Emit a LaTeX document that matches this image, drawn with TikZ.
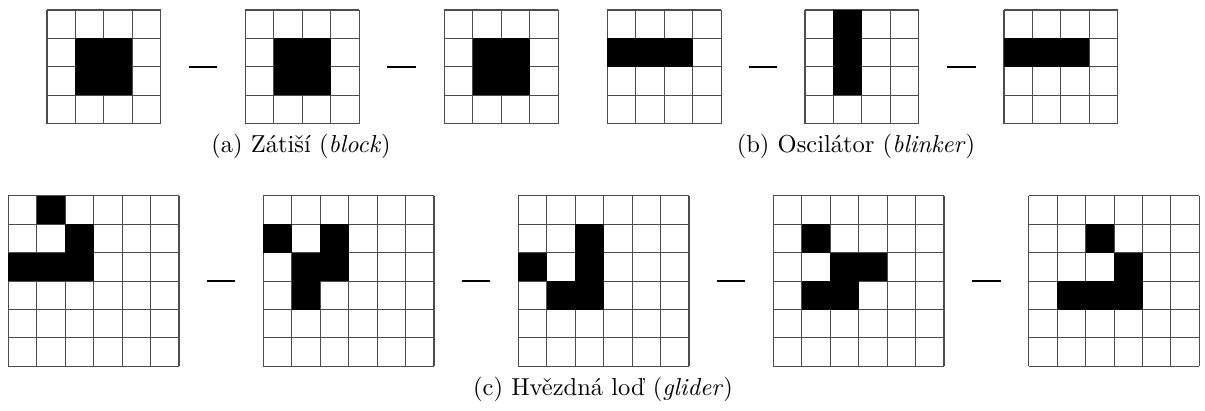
\documentclass[tikz,border=0pt]{standalone}
\begin{document}
\begin{tikzpicture}[x=0.408pt,y=-0.408pt]
\def\cellsz{28.45}
\tikzset{
  gridline/.style={draw=black!70, line width=0.42pt},
  lifecell/.style={fill=black},
  gridframe/.style={inner sep=0pt, outer sep=0pt, anchor=north west},
  sepdash/.style={line width=1.1pt, shorten <=11.45pt, shorten >=11.45pt},
  captext/.style={anchor=base, inner sep=0pt, font=\fontsize{10}{12}\selectfont}
}
\newcommand\lifegrid[5]{%
  \node[gridframe, minimum width={#3*\cellsz*0.408pt}, minimum height={#3*\cellsz*0.408pt}] (#5) at (#1,#2) {};
  \foreach \i in {0,...,#3} {
    \draw[gridline] (#1+\i*\cellsz, #2) -- (#1+\i*\cellsz, #2+#3*\cellsz);
    \draw[gridline] (#1, #2+\i*\cellsz) -- (#1+#3*\cellsz, #2+\i*\cellsz);
  }
  \foreach \c/\r in {#4} {\fill[lifecell] (#1+\c*\cellsz, #2+\r*\cellsz) rectangle ++(\cellsz,\cellsz);}
}
\useasboundingbox (0,0) rectangle (1205,410);
% top row: block
\lifegrid{47}{10}{4}{1/1,2/1,1/2,2/2}{b1}
\lifegrid{245.3}{10}{4}{1/1,2/1,1/2,2/2}{b2}
\lifegrid{444.3}{10}{4}{1/1,2/1,1/2,2/2}{b3}
% blinker
\lifegrid{607.3}{10}{4}{0/1,1/1,2/1}{o1}
\lifegrid{805}{10}{4}{1/0,1/1,1/2}{o2}
\lifegrid{1004}{10}{4}{0/1,1/1,2/1}{o3}
% gliders
\lifegrid{8.3}{195.7}{6}{1/0,2/1,0/2,1/2,2/2}{g1}
\lifegrid{263.3}{195.7}{6}{0/1,2/1,1/2,2/2,1/3}{g2}
\lifegrid{518.3}{195.7}{6}{2/1,0/2,2/2,1/3,2/3}{g3}
\lifegrid{773.3}{195.7}{6}{1/1,2/2,3/2,1/3,2/3}{g4}
\lifegrid{1028.7}{195.7}{6}{2/1,3/2,1/3,2/3,3/3}{g5}
% separators
\draw[sepdash] (b1.east) -- (b2.west);
\draw[sepdash] (b2.east) -- (b3.west);
\draw[sepdash] (o1.east) -- (o2.west);
\draw[sepdash] (o2.east) -- (o3.west);
\draw[sepdash] (g1.east) -- (g2.west);
\draw[sepdash] (g2.east) -- (g3.west);
\draw[sepdash] (g3.east) -- (g4.west);
\draw[sepdash] (g4.east) -- (g5.west);
% captions
\node[captext] (capa) at (301,152) {(a) Zátiší (\textit{block})};
\node[captext] (capb) at (856,152) {(b) Oscilátor (\textit{blinker})};
\node[captext] (capc) at (603,395.7) {(c) Hvězdná loď (\textit{glider})};
\end{tikzpicture}
\end{document}
